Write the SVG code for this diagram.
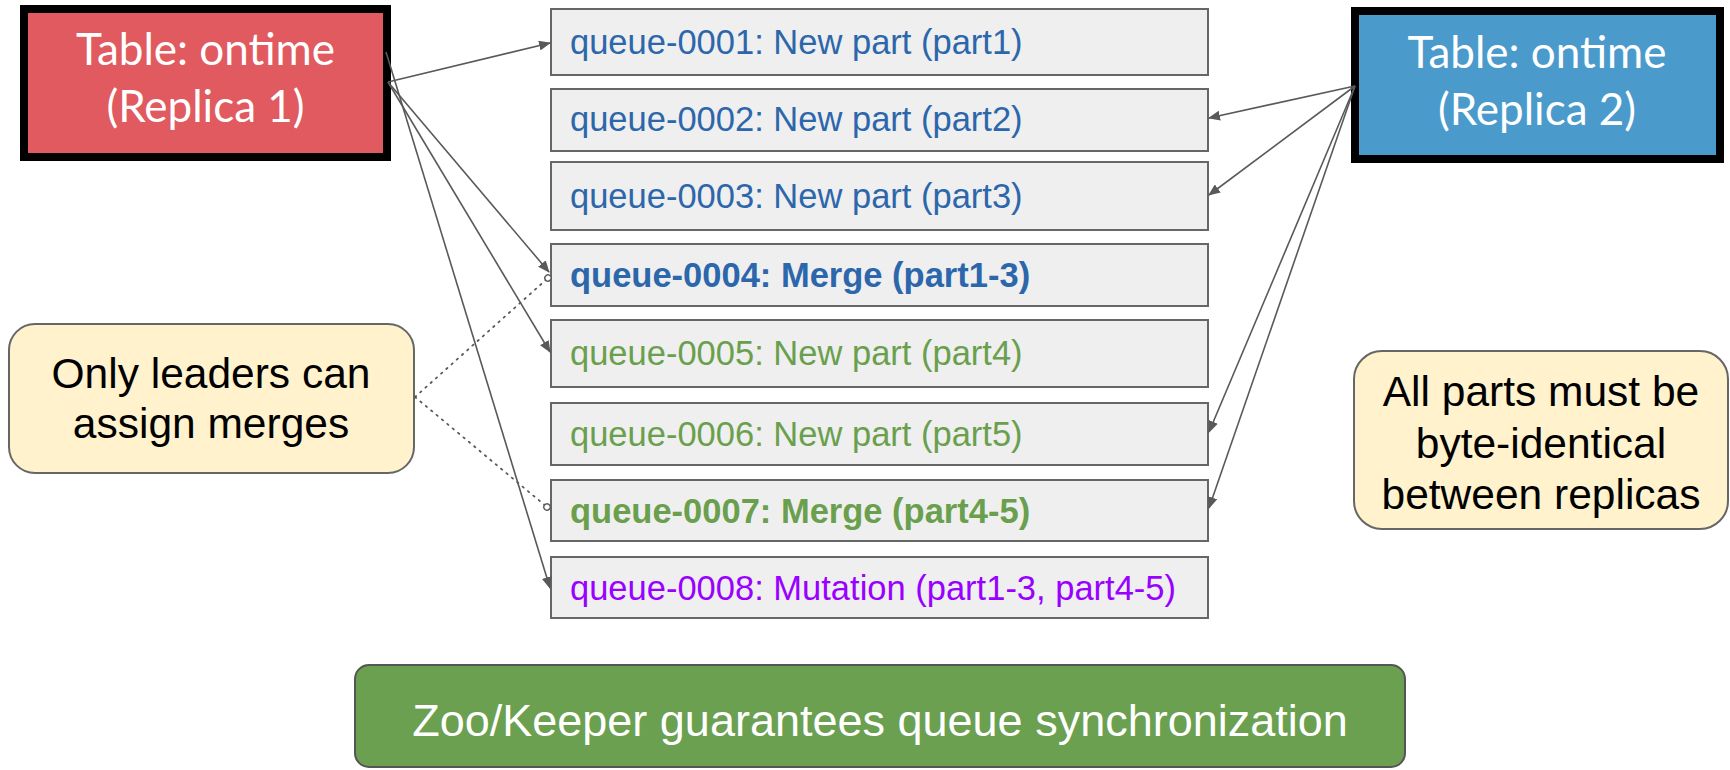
<svg xmlns="http://www.w3.org/2000/svg" width="1730" height="770" viewBox="0 0 1730 770">
<defs>
<marker id="arr" viewBox="0 0 12 10" refX="11" refY="5" markerWidth="12" markerHeight="10" markerUnits="userSpaceOnUse" orient="auto">
<path d="M0,0 L12,5 L0,10 z" fill="#595959"/>
</marker>
<marker id="circ" viewBox="0 0 10 10" refX="5" refY="5" markerWidth="9" markerHeight="9" markerUnits="userSpaceOnUse" orient="auto">
<circle cx="5" cy="5" r="3.5" fill="#ffffff" stroke="#595959" stroke-width="1.5"/>
</marker>
</defs>
<style>
.rep{stroke:#000;stroke-width:8}
.rept{font-family:Lato,"Open Sans","DejaVu Sans",sans-serif;font-size:44px;font-weight:400;fill:#fff;text-anchor:middle}
.q{fill:#efefef;stroke:#666;stroke-width:2}
.qt{font-family:"Liberation Sans",Arial,sans-serif;font-size:34.5px}
.b{font-weight:bold}
.blue{fill:#2c66ab}
.green{fill:#6a9f4e}
.purple{fill:#9900ff}
.note{fill:#fff2cc;stroke:#666;stroke-width:2}
.nt{font-family:"Liberation Sans",Arial,sans-serif;font-size:42.5px;fill:#000;text-anchor:middle}
.con{stroke:#595959;stroke-width:1.6;fill:none}
.dot{stroke:#595959;stroke-width:1.8;fill:none;stroke-dasharray:1.5 5.5;stroke-linecap:round}
</style>
<g id="replica1">
<rect class="rep" x="24" y="9" width="363" height="148" fill="#e05a5f"/>
<text class="rept" x="205.5" y="65">Table: ontime</text>
<text class="rept" x="205.5" y="122">(Replica 1)</text>
</g>
<g id="replica2">
<rect class="rep" x="1355" y="11" width="365" height="148" fill="#4a9bcb"/>
<text class="rept" x="1537" y="68">Table: ontime</text>
<text class="rept" x="1537" y="125">(Replica 2)</text>
</g>
<g id="q1"><rect class="q" x="551" y="9" width="657" height="66"/><text class="qt blue" x="570" y="54">queue-0001: New part (part1)</text></g>
<g id="q2"><rect class="q" x="551" y="89" width="657" height="62"/><text class="qt blue" x="570" y="131">queue-0002: New part (part2)</text></g>
<g id="q3"><rect class="q" x="551" y="162" width="657" height="68"/><text class="qt blue" x="570" y="208">queue-0003: New part (part3)</text></g>
<g id="q4"><rect class="q" x="551" y="244" width="657" height="62"/><text class="qt b blue" x="570" y="287">queue-0004: Merge (part1-3)</text></g>
<g id="q5"><rect class="q" x="551" y="320" width="657" height="67"/><text class="qt green" x="570" y="365">queue-0005: New part (part4)</text></g>
<g id="q6"><rect class="q" x="551" y="403" width="657" height="62"/><text class="qt green" x="570" y="446">queue-0006: New part (part5)</text></g>
<g id="q7"><rect class="q" x="551" y="480" width="657" height="61"/><text class="qt b green" x="570" y="523">queue-0007: Merge (part4-5)</text></g>
<g id="q8"><rect class="q" x="551" y="557" width="657" height="61"/><text class="qt purple" x="570" y="600">queue-0008: Mutation (part1-3, part4-5)</text></g>
<g id="note-leaders">
<rect class="note" x="9" y="324" width="405" height="149" rx="26"/>
<text class="nt" x="211" y="388">Only leaders can</text>
<text class="nt" x="211" y="438">assign merges</text>
</g>
<g id="note-identical">
<rect class="note" x="1354" y="351" width="374" height="178" rx="28"/>
<text class="nt" x="1541" y="406">All parts must be</text>
<text class="nt" x="1541" y="458">byte-identical</text>
<text class="nt" x="1541" y="509">between replicas</text>
</g>
<g id="zookeeper">
<rect x="355" y="665" width="1050" height="102" rx="14" fill="#6aa04f" stroke="#555" stroke-width="2"/>
<text x="880" y="736" font-family="'Liberation Sans',Arial,sans-serif" font-size="45" fill="#fff" text-anchor="middle">Zoo/Keeper guarantees queue synchronization</text>
</g>
<g id="connectors">
<line class="con" x1="388" y1="82" x2="550" y2="43" marker-end="url(#arr)"/>
<line class="con" x1="388" y1="82" x2="549" y2="272" marker-end="url(#arr)"/>
<line class="con" x1="388" y1="82" x2="550" y2="352" marker-end="url(#arr)"/>
<line class="con" x1="386" y1="52" x2="550" y2="588" marker-end="url(#arr)"/>
<line class="con" x1="1355" y1="86" x2="1209" y2="118" marker-end="url(#arr)"/>
<line class="con" x1="1355" y1="86" x2="1209" y2="195" marker-end="url(#arr)"/>
<line class="con" x1="1355" y1="86" x2="1209" y2="432" marker-end="url(#arr)"/>
<line class="con" x1="1355" y1="86" x2="1209" y2="508" marker-end="url(#arr)"/>
<line class="dot" x1="415" y1="397" x2="548" y2="278" marker-end="url(#circ)"/>
<line class="dot" x1="415" y1="397" x2="547" y2="507" marker-end="url(#circ)"/>
</g>
</svg>
